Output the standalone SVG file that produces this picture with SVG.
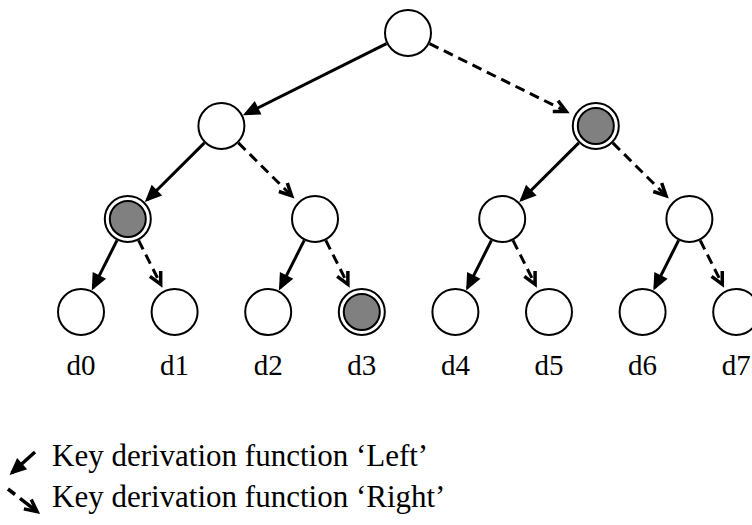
<svg xmlns="http://www.w3.org/2000/svg" width="752" height="525" viewBox="0 0 752 525">
<style>
.n{fill:#fff;stroke:#000;stroke-width:2}
.g{fill:#808080;stroke:#000;stroke-width:2}
.s{stroke:#000;stroke-width:3;fill:none;marker-end:url(#ah)}
.d{stroke:#000;stroke-width:3;fill:none;stroke-dasharray:10 6;marker-end:url(#oh)}
.t{font-family:"Liberation Serif","Times New Roman",serif;fill:#000}
.lab{font-size:29px;text-anchor:middle}
.leg{font-size:31px}
</style>
<defs>
<marker id="ah" markerUnits="userSpaceOnUse" markerWidth="20" markerHeight="20" refX="14" refY="7.5" orient="auto" overflow="visible"><path d="M0,0 L17,7.5 L0,15 z" fill="#000"/></marker>
<marker id="oh" markerUnits="userSpaceOnUse" markerWidth="20" markerHeight="20" refX="13" refY="7" orient="auto" overflow="visible"><path d="M1,1 L13,7 L1,13" fill="none" stroke="#000" stroke-width="3.5" stroke-dasharray="none"/></marker>
</defs>
<g id="connectors">
<line class="s" x1="386.5" y1="43.7" x2="245.6" y2="114"/>
<line class="d" x1="429.5" y1="43.6" x2="566.2" y2="111.4"/>
<line class="s" x1="204.4" y1="142.9" x2="147" y2="200"/>
<line class="d" x1="238.4" y1="142.9" x2="291.6" y2="195.7"/>
<line class="s" x1="578.8" y1="142.9" x2="521.4" y2="200"/>
<line class="d" x1="612.8" y1="142.9" x2="666" y2="195.7"/>
<line class="s" x1="117" y1="240.4" x2="93.1" y2="287.9"/>
<line class="d" x1="138.6" y1="240.4" x2="160.7" y2="284.3"/>
<line class="s" x1="304.2" y1="240.4" x2="280.3" y2="287.9"/>
<line class="d" x1="325.8" y1="240.4" x2="347.9" y2="284.3"/>
<line class="s" x1="491.4" y1="240.4" x2="467.5" y2="287.9"/>
<line class="d" x1="513" y1="240.4" x2="535.1" y2="284.3"/>
<line class="s" x1="678.6" y1="240.4" x2="654.7" y2="287.9"/>
<line class="d" x1="700.2" y1="240.4" x2="722.3" y2="284.3"/>
</g>
<g id="root"><circle class="n" cx="408" cy="33" r="23"/></g>
<g id="n1L"><circle class="n" cx="221.4" cy="126" r="23"/></g>
<g id="n1R"><circle class="n" cx="595.8" cy="126" r="23"/><circle class="g" cx="595.8" cy="126" r="18"/></g>
<g id="n2a"><circle class="n" cx="127.8" cy="219" r="23"/><circle class="g" cx="127.8" cy="219" r="18"/></g>
<g id="n2b"><circle class="n" cx="315" cy="219" r="23"/></g>
<g id="n2c"><circle class="n" cx="502.2" cy="219" r="23"/></g>
<g id="n2d"><circle class="n" cx="689.4" cy="219" r="23"/></g>
<g id="d0"><circle class="n" cx="81" cy="312" r="23"/><text class="t lab" x="81" y="375">d0</text></g>
<g id="d1"><circle class="n" cx="174.6" cy="312" r="23"/><text class="t lab" x="174.6" y="375">d1</text></g>
<g id="d2"><circle class="n" cx="268.2" cy="312" r="23"/><text class="t lab" x="268.2" y="375">d2</text></g>
<g id="d3"><circle class="n" cx="361.8" cy="312" r="23"/><circle class="g" cx="361.8" cy="312" r="18"/><text class="t lab" x="361.8" y="375">d3</text></g>
<g id="d4"><circle class="n" cx="455.4" cy="312" r="23"/><text class="t lab" x="455.4" y="375">d4</text></g>
<g id="d5"><circle class="n" cx="549" cy="312" r="23"/><text class="t lab" x="549" y="375">d5</text></g>
<g id="d6"><circle class="n" cx="642.6" cy="312" r="23"/><text class="t lab" x="642.6" y="375">d6</text></g>
<g id="d7"><circle class="n" cx="736.2" cy="312" r="23"/><text class="t lab" x="736.2" y="375">d7</text></g>
<g id="legend">
<line class="s" x1="35" y1="452" x2="11.7" y2="473" style="stroke-width:3.5"/>
<line x1="8" y1="489" x2="15" y2="494.5" stroke="#000" stroke-width="3.5"/>
<line class="s" x1="20" y1="498.3" x2="37" y2="511.5" style="marker-end:url(#oh);stroke-width:3.5"/>
<text class="t leg" x="52" y="466">Key derivation function ‘Left’</text>
<text class="t leg" x="52" y="507">Key derivation function ‘Right’</text>
</g>
</svg>
